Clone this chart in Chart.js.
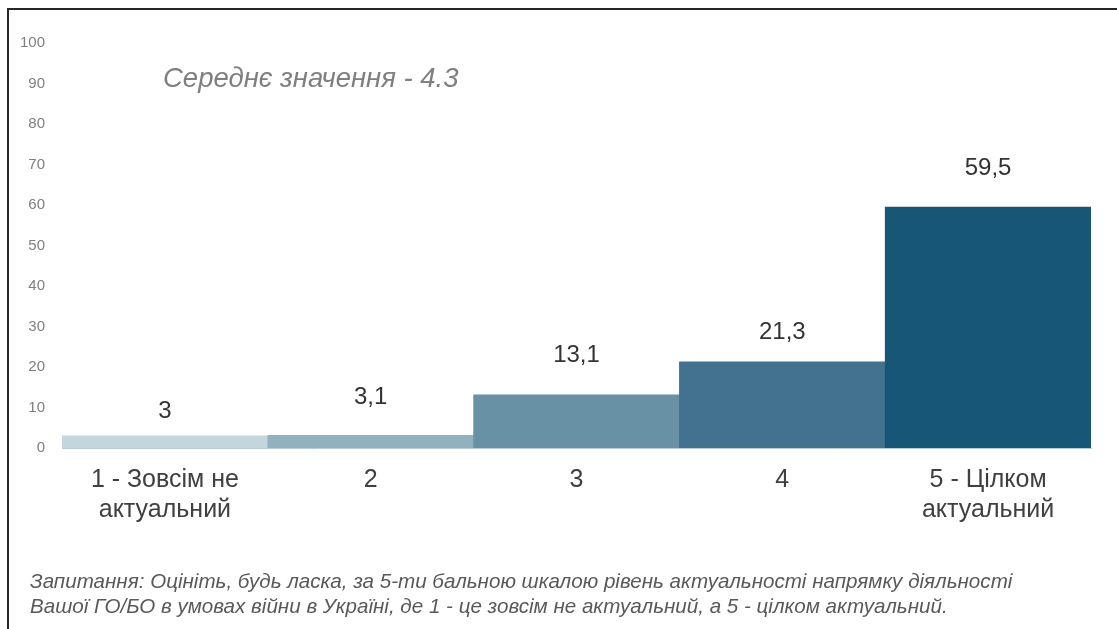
<!DOCTYPE html>
<html lang="uk">
<head>
<meta charset="utf-8">
<title>Актуальність напрямку діяльності</title>
<script src="https://cdn.jsdelivr.net/npm/chart.js@4.4.1/dist/chart.umd.min.js"></script>
<style>
  html, body { margin: 0; padding: 0; background: #fff; }
  body { width: 1117px; height: 629px; position: relative; overflow: hidden; font-family: "Liberation Sans", Arial, sans-serif; }
  #frame { position: absolute; left: 7px; top: 8px; width: 1200px; height: 700px; border-left: 2px solid #262626; border-top: 2px solid #262626; }
  #wrap { position: absolute; left: 0; top: 0; width: 1117px; height: 629px; }
  #avg { position: absolute; left: 163px; top: 62px; font-size: 27.5px; font-style: italic; color: #7f7f7f; white-space: nowrap; }
  #note { position: absolute; left: 30px; top: 568px; font-size: 20.6px; font-style: italic; color: #595959; line-height: 25px; white-space: nowrap; }
</style>
</head>
<body>
<div id="frame"></div>
<div id="wrap"><canvas id="chart" width="1117" height="629"></canvas></div>
<div id="avg">Середнє значення - 4.3</div>
<div id="note">Запитання: Оцініть, будь ласка, за 5-ти бальною шкалою рівень актуальності напрямку діяльності<br>Вашої ГО/БО в умовах війни в Україні, де 1 - це зовсім не актуальний, а 5 - цілком актуальний.</div>

<script>
// ---------- Data ----------
const categories = [["1 - Зовсім не", "актуальний"], "2", "3", "4", ["5 - Цілком", "актуальний"]];
const values = [3, 3.1, 13.1, 21.3, 59.5];
const barColors = ["#c3d6de", "#91b0c0", "#6991a6", "#42728f", "#185677"];
const yTicks = [0, 10, 20, 30, 40, 50, 60, 70, 80, 90, 100];
// how far above each bar its value label sits (px), as in the original
const labelLift = [24, 38, 40, 29, 39];

// ---------- Value labels above bars ----------
const valueLabels = {
  id: "valueLabels",
  afterDatasetsDraw(chart) {
    const ctx = chart.ctx;
    const meta = chart.getDatasetMeta(0);
    ctx.save();
    ctx.font = "24px 'Liberation Sans', Arial, sans-serif";
    ctx.fillStyle = "#333333";
    ctx.textAlign = "center";
    ctx.textBaseline = "middle";
    meta.data.forEach((bar, i) => {
      const txt = String(values[i]).replace(".", ",");
      ctx.fillText(txt, bar.x, bar.y - labelLift[i]);
    });
    ctx.restore();
  }
};

new Chart(document.getElementById("chart"), {
  type: "bar",
  data: {
    labels: categories,
    datasets: [{
      data: values,
      backgroundColor: barColors,
      borderWidth: 0,
      categoryPercentage: 1.0,
      barPercentage: 1.0
    }]
  },
  options: {
    responsive: false,
    animation: false,
    layout: { padding: { left: 14, right: 26, top: 43, bottom: 0 } },
    plugins: { legend: { display: false }, tooltip: { enabled: false } },
    scales: {
      y: {
        min: 0,
        max: 100,
        afterBuildTicks: axis => { axis.ticks = yTicks.map(v => ({ value: v })); },
        afterFit: axis => { axis.width = 48; },
        grid: { display: false, drawTicks: false },
        border: { display: false },
        ticks: { padding: 17, color: "#7f7f7f", font: { size: 15, family: "'Liberation Sans', Arial, sans-serif" } }
      },
      x: {
        afterFit: axis => { axis.height = 181; },
        grid: { display: false, drawTicks: false },
        border: { display: true, color: "#b7cbd6", width: 1 },
        ticks: {
          padding: 17,
          color: "#404040",
          maxRotation: 0,
          font: { size: 25, lineHeight: 1.2, family: "'Liberation Sans', Arial, sans-serif" }
        }
      }
    }
  },
  plugins: [valueLabels]
});
</script>
</body>
</html>
